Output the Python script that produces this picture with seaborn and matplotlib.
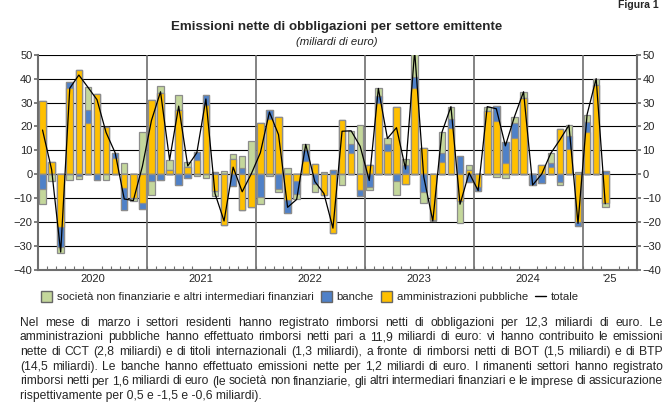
import numpy as np
import matplotlib
matplotlib.use("Agg")
import matplotlib.pyplot as plt
from matplotlib.patches import Patch
from matplotlib.lines import Line2D
import seaborn as sns

# monthly categories, Jan 2020 - Mar 2025
MESI = [f"{a}-{m:02d}" for a in range(2020, 2026) for m in range(1, 13)][:63]

# società non finanziarie e altri intermediari finanziari
SNF = [-6.0, -3.0, -2.5, -2.4, -1.6, 9.5, 0.0, -2.4, 0.0, 4.6, -1.0, 17.8,
       -5.5, 3.0, 4.0, 6.0, 2.0, -0.5, -1.5, -2.0, 1.5, 2.0, 5.0, 14.0,
       -3.0, -0.8, -0.9, 2.5, -2.2, 2.5, -3.2, 0.8, 0.0, -4.5, 5.5, 20.6,
       -1.3, 3.2, 2.5, -5.5, 2.5, 11.0, -4.5, -0.5, 8.7, 5.3, -9.5, 2.1,
       0.0, 1.7, -1.3, -1.7, 2.8, 2.7, 0.0, 0.0, 3.9, -1.4, 4.5, 1.0,
       3.0, 2.5, -1.6]
# banche
BANCHE = [-6.3, 0.0, -8.3, 2.5, -0.5, 5.6, -2.3, 0.0, 2.3, -9.3, 0.0, -2.7,
          -3.0, -2.5, 0.0, -4.5, -1.5, 3.5, 4.0, 1.0, 0.0, -5.0, 2.5, 0.0,
          -9.3, 3.6, -6.3, -5.6, -5.5, 4.5, -4.0, 0.0, 2.0, 0.0, 3.9, -2.4,
          -5.2, 3.0, 2.8, -3.0, 3.9, 4.5, -7.5, 0.0, 3.5, 3.8, 7.8, -3.3,
          -1.6, 0.0, 6.4, 9.0, 6.0, 0.0, -4.5, -3.8, 1.7, -3.1, 5.5, -1.5,
          4.5, 0.0, 1.2]
# amministrazioni pubbliche
AP = [30.8, 5.0, -21.9, 35.9, 43.6, 21.3, 33.5, 19.9, 6.7, -5.6, -10.0, -11.8,
      31.0, 34.0, 2.0, 27.0, 3.0, 6.0, 29.0, -7.0, -21.0, 6.3, -14.8, -13.8,
      21.3, 23.2, 23.8, -10.7, -2.8, 5.5, 4.2, -8.8, -24.5, 22.5, 8.8, -6.5,
      3.9, 29.7, 9.7, 28.0, -4.2, 36.0, 11.0, -19.0, 5.3, 19.2, -11.0, 1.8,
      -5.2, 26.6, 22.3, 4.6, 15.3, 31.8, 0.0, 3.9, 3.2, 18.9, 10.5, -20.0,
      17.5, 37.5, -11.9]
# totale
TOTALE = [18.5, 2.0, -32.5, 36.0, 41.5, 36.4, 31.2, 17.5, 9.0, -10.3, -11.0, 3.3,
          22.5, 34.5, 6.0, 28.5, 3.5, 9.0, 31.5, -8.0, -19.5, 3.0, -7.3, 0.2,
          9.0, 26.0, 16.6, -13.8, -10.5, 12.5, -3.0, -8.0, -22.5, 18.0, 18.2, 11.7,
          -2.6, 35.9, 15.0, 19.5, 2.2, 51.5, -1.0, -19.5, 17.5, 28.3, -12.5, 0.6,
          -6.8, 28.3, 27.4, 11.9, 24.1, 34.5, -4.5, 0.1, 8.8, 14.4, 20.5, -20.5,
          25.0, 40.0, -12.3]

YEAR_LABELS = ["2020", "2021", "2022", "2023", "2024", "'25"]
YEAR_POS = [5.5, 17.5, 29.5, 41.5, 53.5, 62.5]

LEGEND = ["società non finanziarie e altri intermediari finanziari", "banche",
          "amministrazioni pubbliche", "totale"]
C_SNF, C_BANCHE, C_AP = "#c4d79b", "#4f81c8", "#ffc000"
EDGE = "#8c8c8c"

TESTO = [
    "Nel mese di marzo i settori residenti hanno registrato rimborsi netti di obbligazioni per 12,3 miliardi di euro.  Le",
    "amministrazioni pubbliche hanno effettuato rimborsi netti pari a 11,9 miliardi di euro: vi hanno contribuito le emissioni",
    "nette di CCT (2,8 miliardi) e di titoli internazionali (1,3 miliardi), a fronte di rimborsi netti di BOT (1,5 miliardi) e di BTP",
    "(14,5 miliardi).  Le banche hanno effettuato emissioni nette per 1,2 miliardi di euro.  I rimanenti settori hanno registrato",
    "rimborsi netti per 1,6 miliardi di euro (le società non finanziarie, gli altri intermediari finanziari e le imprese di assicurazione",
    "rispettivamente per 0,5 e -1,5 e -0,6 miliardi).",
]


def stacks(series, sign):
    """Cumulative stacks from zero outward for one sign."""
    cum = np.zeros(len(MESI))
    out = []
    for s in series:
        v = np.asarray(s, dtype=float)
        cum = cum + np.where(v * sign > 0, v, 0.0)
        out.append(cum.copy())
    return out


def justify(fig, renderer, line, x0, x1, y, size):
    """Place the words of a line so that it fills x0..x1 (pixels)."""
    W = fig.get_figwidth() * fig.dpi
    words = line.split()
    texts = [fig.text(0, y, w, fontsize=size, va="baseline", ha="left")
             for w in words]
    widths = [t.get_window_extent(renderer).width for t in texts]
    gap = ((x1 - x0) - sum(widths)) / max(len(words) - 1, 1)
    x = x0
    for t, w in zip(texts, widths):
        t.set_x(x / W)
        x += w + gap


def main():
    sns.set_theme(style="white")
    plt.rcParams["font.family"] = ["Liberation Sans", "DejaVu Sans"]

    fig = plt.figure(figsize=(6.72, 4.04), dpi=100)
    ax = fig.add_axes([38 / 672, 1 - 270 / 404, (637 - 38) / 672, (270 - 54.7) / 404])

    colors = [C_AP, C_BANCHE, C_SNF]
    for sign in (1, -1):
        st = stacks([AP, BANCHE, SNF], sign)
        for h, c in zip(reversed(st), reversed(colors)):
            sns.barplot(x=MESI, y=h, order=MESI, color=c, saturation=1,
                        width=0.72, edgecolor=EDGE, linewidth=0.9, ax=ax,
                        zorder=2)

    sns.lineplot(x=np.arange(len(MESI)), y=TOTALE, color="black",
                 linewidth=0.9, ax=ax, zorder=3)

    ax.set_xlim(-0.5, 65.5)
    ax.set_ylim(-40, 50)
    ax.set_yticks(np.arange(-40, 51, 10))
    ax.set_axisbelow(True)
    ax.yaxis.grid(True, color="black", linewidth=0.8)
    for b in (11.5, 23.5, 35.5, 47.5, 59.5):
        ax.axvline(b, color="#6e6e6e", linewidth=1.2, zorder=1)

    ax.set_xticks(YEAR_POS)
    ax.set_xticklabels(YEAR_LABELS)
    ax.set_xticks(np.arange(0.5, 65, 1), minor=True)
    ax.tick_params(axis="x", which="major", length=0, pad=3, labelsize=8)
    ax.tick_params(axis="x", which="minor", bottom=True, direction="in",
                   length=3, color="#6e6e6e", width=0.8)
    ax.tick_params(axis="y", left=True, right=True, labelleft=True,
                   labelright=True, direction="out", length=3,
                   color="#6e6e6e", labelsize=8, pad=1)
    ax.set_xlabel("")
    ax.set_ylabel("")
    ax.spines["top"].set_visible(False)
    for s in ("left", "right", "bottom"):
        ax.spines[s].set_color("#6e6e6e")
        ax.spines[s].set_linewidth(1.5)

    handles = [Patch(facecolor=C_SNF, edgecolor="#666666", linewidth=1),
               Patch(facecolor=C_BANCHE, edgecolor="#666666", linewidth=1),
               Patch(facecolor=C_AP, edgecolor="#666666", linewidth=1),
               Line2D([], [], color="black", linewidth=1)]
    fig.legend(handles, LEGEND, loc="center", bbox_to_anchor=(0.461, 0.265),
               ncol=4, frameon=False, fontsize=8.2, handlelength=1.0,
               handleheight=1.0, handletextpad=0.4, columnspacing=0.6)

    fig.text(0.5015, 1 - 27 / 404, "Emissioni nette di obbligazioni per settore emittente",
             ha="center", va="center", fontsize=9.6, fontweight="bold")
    fig.text(0.5015, 1 - 41.7 / 404, "(miliardi di euro)", ha="center",
             va="center", fontsize=8.2, style="italic", color="#222222")
    fig.text(659 / 672, 1 - 5.5 / 404, "Figura 1", ha="right", va="center",
             fontsize=7.5, fontweight="bold")

    renderer = fig.canvas.get_renderer()
    baselines = [325.7, 340.4, 355.1, 369.8, 384.5, 399.2]
    for i, (line, y) in enumerate(zip(TESTO, baselines)):
        if i < len(TESTO) - 1:
            justify(fig, renderer, line, 20, 663, 1 - y / 404, 8.7)
        else:
            fig.text(20 / 672, 1 - y / 404, line, fontsize=8.7, va="baseline")

    fig.savefig("out.png", dpi=100)
    plt.close(fig)


if __name__ == "__main__":
    main()
